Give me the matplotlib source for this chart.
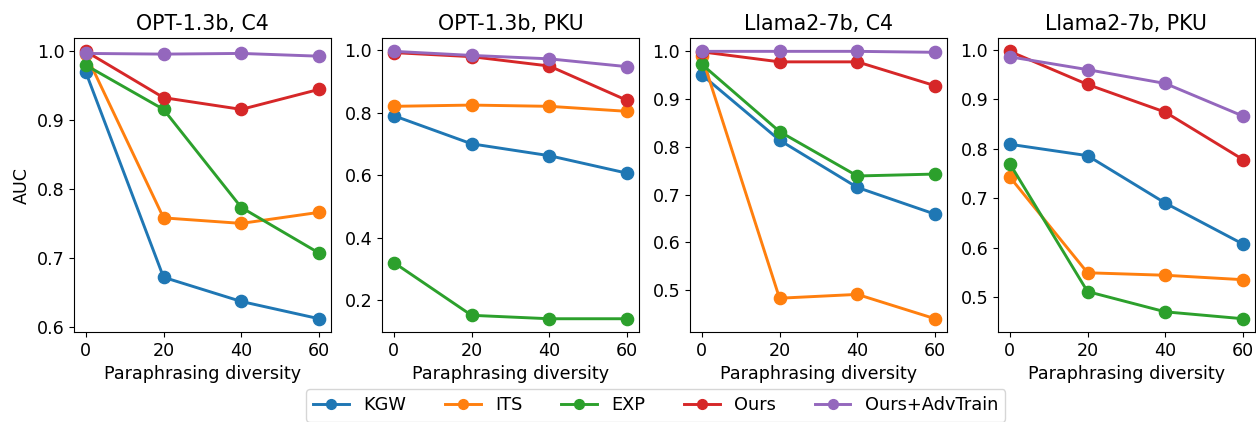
import matplotlib
matplotlib.use('Agg')
import matplotlib.pyplot as plt
from matplotlib.ticker import MultipleLocator

# Paraphrasing diversity levels
diversity = [0, 20, 40, 60]

methods = ['KGW', 'ITS', 'EXP', 'Ours', 'Ours+AdvTrain']
colors = ['#1f77b4', '#ff7f0e', '#2ca02c', '#d62728', '#9467bd']

titles = ['OPT-1.3b, C4', 'OPT-1.3b, PKU', 'Llama2-7b, C4', 'Llama2-7b, PKU']

# AUC values per panel, one list per method
opt_c4_kgw = [0.969, 0.672, 0.637, 0.612]
opt_c4_its = [0.995, 0.758, 0.750, 0.766]
opt_c4_exp = [0.979, 0.915, 0.773, 0.707]
opt_c4_ours = [0.999, 0.932, 0.915, 0.944]
opt_c4_adv = [0.996, 0.995, 0.996, 0.992]

opt_pku_kgw = [0.791, 0.701, 0.663, 0.607]
opt_pku_its = [0.821, 0.825, 0.821, 0.805]
opt_pku_exp = [0.321, 0.152, 0.141, 0.141]
opt_pku_ours = [0.993, 0.980, 0.950, 0.840]
opt_pku_adv = [0.997, 0.984, 0.973, 0.948]

llama_c4_kgw = [0.951, 0.814, 0.715, 0.659]
llama_c4_its = [0.990, 0.483, 0.491, 0.440]
llama_c4_exp = [0.973, 0.832, 0.739, 0.743]
llama_c4_ours = [0.999, 0.978, 0.978, 0.928]
llama_c4_adv = [1.000, 1.000, 1.000, 0.998]

llama_pku_kgw = [0.809, 0.786, 0.690, 0.607]
llama_pku_its = [0.743, 0.549, 0.544, 0.535]
llama_pku_exp = [0.770, 0.511, 0.470, 0.456]
llama_pku_ours = [0.997, 0.930, 0.874, 0.778]
llama_pku_adv = [0.986, 0.960, 0.932, 0.866]

panels = [
    [opt_c4_kgw, opt_c4_its, opt_c4_exp, opt_c4_ours, opt_c4_adv],
    [opt_pku_kgw, opt_pku_its, opt_pku_exp, opt_pku_ours, opt_pku_adv],
    [llama_c4_kgw, llama_c4_its, llama_c4_exp, llama_c4_ours, llama_c4_adv],
    [llama_pku_kgw, llama_pku_its, llama_pku_exp, llama_pku_ours, llama_pku_adv],
]

plt.rcParams['font.size'] = 12.6

fig, axes = plt.subplots(1, 4, figsize=(12.56, 4.22), dpi=100)

for i, (ax, title, series) in enumerate(zip(axes, titles, panels)):
    for name, color, vals in zip(methods, colors, series):
        ax.plot(diversity, vals, marker='o', markersize=8.8, linewidth=2.1,
                color=color, label=name)
    ax.set_title(title, fontsize=14.8)
    ax.set_xlabel('Paraphrasing diversity', fontsize=12.6)
    ax.set_xticks(diversity)
    ax.tick_params(labelsize=12.6)
    if i != 1:
        ax.yaxis.set_major_locator(MultipleLocator(0.1))

axes[0].set_ylabel('AUC', fontsize=12.6)

handles, labels = axes[0].get_legend_handles_labels()
fig.legend(handles, labels, loc='lower center', ncol=5, fontsize=12.8,
           bbox_to_anchor=(0.522, -0.02), markerscale=0.8, columnspacing=2.2)

fig.subplots_adjust(left=0.059, right=0.999, top=0.91, bottom=0.213, wspace=0.2)

fig.savefig('out.png', dpi=100)
